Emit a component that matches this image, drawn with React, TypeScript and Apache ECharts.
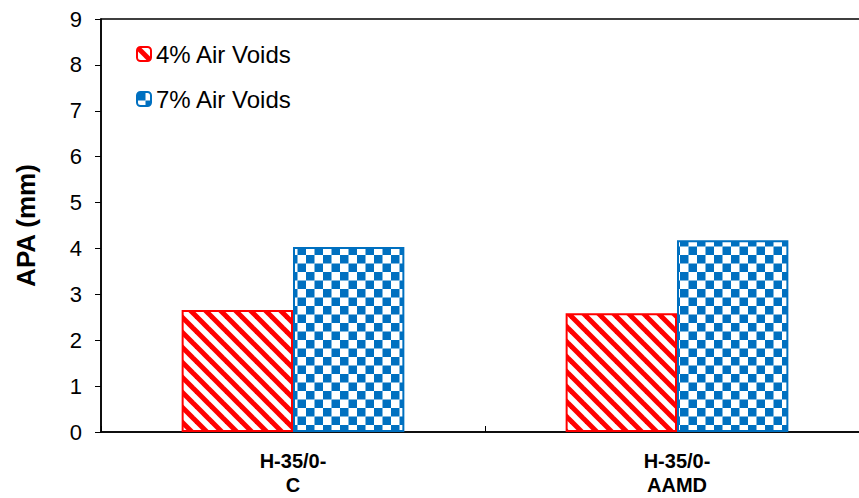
import React, { useEffect, useRef } from "react";
import * as echarts from "echarts";

const categories = ["H-35/0-\nC", "H-35/0-\nAAMD"];
const air4 = [2.66, 2.59];
const air7 = [4.03, 4.18];
const seriesNames = ["4% Air Voids", "7% Air Voids"];
const yTicks = [0, 9, 1];

function stripeCanvas(): HTMLCanvasElement {
  const s = 15;
  const c = document.createElement("canvas");
  c.width = s;
  c.height = s;
  const ctx = c.getContext("2d")!;
  ctx.fillStyle = "#ffffff";
  ctx.fillRect(0, 0, s, s);
  ctx.strokeStyle = "#ff0000";
  ctx.lineWidth = 5;
  for (let k = -1; k <= 1; k++) {
    ctx.beginPath();
    ctx.moveTo(k * s - 2, -2);
    ctx.lineTo(k * s + s + 2, s + 2);
    ctx.stroke();
  }
  return c;
}

function checkerCanvas(): HTMLCanvasElement {
  const s = 17;
  const h = s / 2;
  const c = document.createElement("canvas");
  c.width = s;
  c.height = s;
  const ctx = c.getContext("2d")!;
  ctx.fillStyle = "#ffffff";
  ctx.fillRect(0, 0, s, s);
  ctx.fillStyle = "#0070C0";
  ctx.fillRect(0, 0, h, h);
  ctx.fillRect(h, h, h, h);
  return c;
}

export default function App() {
  const ref = useRef<HTMLDivElement>(null);
  useEffect(() => {
    document.body.style.margin = "0";
    const chart = echarts.init(ref.current!, null, { renderer: "svg" });
    const stripe = stripeCanvas();
    const checker = checkerCanvas();
    chart.setOption({
      animation: false,
      textStyle: { fontFamily: "Liberation Sans, Arial, sans-serif" },
      grid: {
        left: 101,
        top: 19,
        bottom: 66,
        width: 768,
        show: true,
        borderColor: "#000",
        borderWidth: 1.5,
        containLabel: false,
        outerBoundsMode: "none",
      },
      legend: {
        orient: "vertical",
        left: 131,
        top: 37,
        itemWidth: 14,
        itemHeight: 14,
        itemGap: 21,
        textStyle: { fontSize: 24, lineHeight: 24, color: "#000" },
        data: seriesNames,
      },
      xAxis: {
        type: "category",
        data: categories,
        axisLine: { lineStyle: { color: "#000", width: 1.5 } },
        axisTick: { show: true, inside: true, length: 6, lineStyle: { color: "#000" } },
        axisLabel: {
          color: "#000",
          fontSize: 20,
          fontWeight: "bold",
          lineHeight: 24,
          margin: 17,
        },
      },
      yAxis: {
        type: "value",
        min: yTicks[0],
        max: yTicks[1],
        interval: yTicks[2],
        name: "APA (mm)",
        nameLocation: "middle",
        nameGap: 62,
        nameTextStyle: { fontSize: 26, fontWeight: "bold", color: "#000" },
        splitLine: { show: false },
        axisLine: { show: true, lineStyle: { color: "#000", width: 1.5 } },
        axisTick: { show: true, length: 6, lineStyle: { color: "#000" } },
        axisLabel: { color: "#000", fontSize: 22, margin: 19 },
      },
      series: [
        {
          name: seriesNames[0],
          type: "bar",
          data: air4,
          barGap: "0%",
          barCategoryGap: "42%",
          itemStyle: {
            color: { image: stripe, repeat: "repeat", imageWidth: 15, imageHeight: 15 },
            borderColor: "#ff0000",
            borderWidth: 2,
          },
        },
        {
          name: seriesNames[1],
          type: "bar",
          data: air7,
          barGap: "0%",
          barCategoryGap: "42%",
          itemStyle: {
            color: { image: checker, repeat: "repeat", imageWidth: 17, imageHeight: 17 },
            borderColor: "#0070C0",
            borderWidth: 2,
          },
        },
      ],
    });
    return () => chart.dispose();
  }, []);
  return <div ref={ref} style={{ width: 859, height: 498 }} />;
}
